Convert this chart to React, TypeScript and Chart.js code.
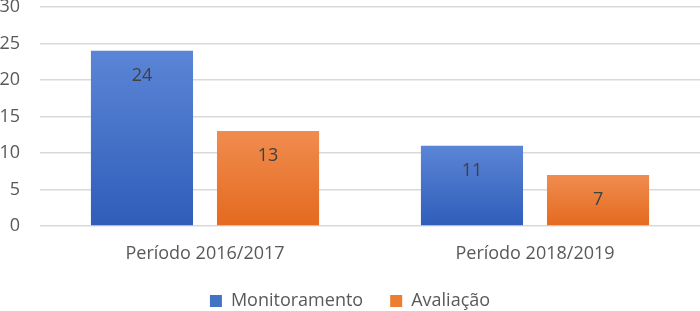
import React, { useEffect, useRef } from "react";
import { Chart, registerables } from "chart.js";

Chart.register(...registerables);

const categories = ["Período 2016/2017", "Período 2018/2019"];
const seriesNames = ["Monitoramento", "Avaliação"];
const monitoramento = [24, 11];
const avaliacao = [13, 7];
const yTicks = [0, 5, 10, 15, 20, 25, 30];

const FONT = "'Open Sans', 'DejaVu Sans', sans-serif";
const TEXT = "#595959";

const gradients: Record<string, [string, string]> = {
  blue: ["#5B85D6", "#2F5DB9"],
  orange: ["#F08C50", "#E46A1E"],
};

function barGradient(key: string) {
  return (ctx: any) => {
    const chart = ctx.chart;
    const area = chart.chartArea;
    if (!area || ctx.type !== "data") return gradients[key][1];
    const ys = chart.scales.y;
    const v = ctx.parsed ? ctx.parsed.y : ctx.raw;
    const top = ys.getPixelForValue(v);
    const base = ys.getPixelForValue(0);
    if (!isFinite(top) || !isFinite(base) || top === base) return gradients[key][1];
    const g = chart.ctx.createLinearGradient(0, top, 0, base);
    g.addColorStop(0, gradients[key][0]);
    g.addColorStop(1, gradients[key][1]);
    return g;
  };
}

const valueLabels = {
  id: "valueLabels",
  afterDatasetsDraw(chart: any) {
    const ctx = chart.ctx;
    ctx.save();
    ctx.font = `18px ${FONT}`;
    ctx.fillStyle = "#404040";
    ctx.textAlign = "center";
    ctx.textBaseline = "middle";
    chart.data.datasets.forEach((ds: any, i: number) => {
      const meta = chart.getDatasetMeta(i);
      meta.data.forEach((bar: any, j: number) => {
        ctx.fillText(String(ds.data[j]), bar.x, bar.y + 25);
      });
    });
    ctx.restore();
  },
};

export default function App() {
  const ref = useRef<HTMLCanvasElement>(null);
  useEffect(() => {
    document.body.style.margin = "0";
    const chart = new Chart(ref.current!, {
      type: "bar",
      data: {
        labels: categories,
        datasets: [
          {
            label: seriesNames[0],
            data: monitoramento,
            backgroundColor: barGradient("blue"),
            borderWidth: 0,
          },
          {
            label: seriesNames[1],
            data: avaliacao,
            backgroundColor: barGradient("orange"),
            borderWidth: 0,
          },
        ],
      },
      options: {
        animation: false,
        responsive: false,
        maintainAspectRatio: false,
        layout: { padding: { top: 0, right: 0, left: 0, bottom: -9 } },
        datasets: {
          bar: { categoryPercentage: 0.764, barPercentage: 0.81 },
        },
        scales: {
          x: {
            grid: { display: false, drawTicks: false },
            border: { display: false },
            ticks: { color: TEXT, font: { family: FONT, size: 18 }, padding: 17 },
            afterFit: (axis: any) => {
              axis.height = 39;
            },
          },
          y: {
            min: 0,
            max: 30,
            afterBuildTicks: (axis: any) => {
              axis.ticks = yTicks.map((v) => ({ value: v }));
            },
            afterFit: (axis: any) => {
              axis.width = 40;
              axis.paddingTop = 7;
              axis.paddingBottom = 0;
            },
            grid: { color: "#D9D9D9", lineWidth: 1.5, drawTicks: false },
            border: { display: false },
            ticks: { color: TEXT, font: { family: FONT, size: 18 }, padding: 20 },
          },
        },
        plugins: {
          legend: {
            position: "bottom",
            labels: {
              color: TEXT,
              font: { family: FONT, size: 18 },
              boxWidth: 12,
              boxHeight: 12,
              padding: 27,
              useBorderRadius: false,
              generateLabels: (c: any) =>
                c.data.datasets.map((ds: any, i: number) => ({
                  text: ds.label,
                  fillStyle: i === 0 ? "#4472C4" : "#ED7D31",
                  strokeStyle: i === 0 ? "#4472C4" : "#ED7D31",
                  lineWidth: 0,
                  fontColor: TEXT,
                  datasetIndex: i,
                  hidden: false,
                })),
            },
          },
          tooltip: { enabled: false },
        },
      },
      plugins: [valueLabels],
    });
    return () => chart.destroy();
  }, []);
  return <canvas ref={ref} width={700} height={311} style={{ display: "block" }} />;
}
